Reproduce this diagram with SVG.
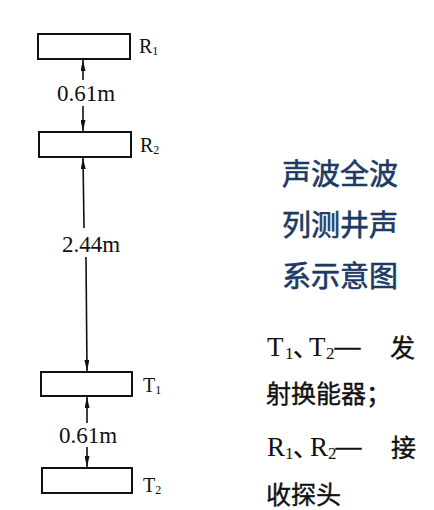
<svg xmlns="http://www.w3.org/2000/svg" width="434" height="510" viewBox="0 0 434 510">
<defs>
<style>
.box{fill:#fff;stroke:#111;stroke-width:2}
.ln{stroke:#111;stroke-width:1.6;fill:none}
.lbl{font-family:"Liberation Serif","Times New Roman",serif;font-size:20px;fill:#111}
.sub{font-size:12px}
.dim{font-family:"Liberation Serif","Times New Roman",serif;font-size:23px;fill:#111;text-anchor:middle}
.title{font-family:"Noto Sans CJK SC","Noto Sans",sans-serif;font-size:29px;fill:#1d3a66;stroke:#1d3a66;stroke-width:0.6}
.note{font-family:"Noto Sans CJK SC","Noto Sans",sans-serif;font-size:25px;fill:#111;stroke:#111;stroke-width:0.4}
.lat{font-family:"Liberation Serif","Times New Roman",serif;font-size:27px;fill:#111;stroke:none}
.lsub{font-family:"Liberation Serif","Times New Roman",serif;font-size:17px;fill:#111;stroke:none}
</style>
<marker id="ah" viewBox="0 0 10 10" refX="10" refY="5" markerWidth="11" markerHeight="5" preserveAspectRatio="none" markerUnits="userSpaceOnUse" orient="auto">
<path d="M0,0 L10,5 L0,10 Z" fill="#111"/>
</marker>
</defs>
<rect width="434" height="510" fill="#fff"/>
<g id="connectors">
<line class="ln" x1="83" y1="80" x2="83" y2="60" marker-end="url(#ah)"/>
<line class="ln" x1="83" y1="106" x2="83" y2="131" marker-end="url(#ah)"/>
<text class="dim" x="86" y="101">0.61m</text>
<line class="ln" x1="84" y1="228" x2="83" y2="158" marker-end="url(#ah)"/>
<line class="ln" x1="86" y1="257" x2="87" y2="371" marker-end="url(#ah)"/>
<text class="dim" x="91" y="252">2.44m</text>
<line class="ln" x1="87" y1="423" x2="87" y2="397" marker-end="url(#ah)"/>
<line class="ln" x1="87" y1="447" x2="87" y2="467" marker-end="url(#ah)"/>
<text class="dim" x="88" y="443">0.61m</text>
</g>
<g id="R1">
<rect class="box" x="38" y="34" width="92" height="25"/>
<text class="lbl" x="139" y="53">R<tspan class="sub" dy="2">1</tspan></text>
</g>
<g id="R2">
<rect class="box" x="39" y="132" width="92" height="25"/>
<text class="lbl" x="140" y="152">R<tspan class="sub" dy="2">2</tspan></text>
</g>
<g id="T1">
<rect class="box" x="41" y="372" width="91" height="24"/>
<text class="lbl" x="143" y="392">T<tspan class="sub" dy="2">1</tspan></text>
</g>
<g id="T2">
<rect class="box" x="42" y="468" width="90" height="25"/>
<text class="lbl" x="143" y="492">T<tspan class="sub" dy="2">2</tspan></text>
</g>
<g id="title">
<text class="title" x="282" y="185">声波全波</text>
<text class="title" x="282" y="236">列测井声</text>
<text class="title" x="282" y="287">系示意图</text>
</g>
<g id="legend">
<text class="note" y="356"><tspan class="lat" x="267">T</tspan><tspan class="lsub" x="285" y="359">1</tspan><tspan x="293" y="356">、</tspan><tspan class="lat" x="309">T</tspan><tspan class="lsub" x="326" y="359">2</tspan><tspan x="333" y="356" textLength="29" lengthAdjust="spacingAndGlyphs">—</tspan><tspan x="390" y="357">发</tspan></text>
<text class="note" x="266" y="403">射换能器；</text>
<text class="note" y="456"><tspan class="lat" x="267">R</tspan><tspan class="lsub" x="285" y="459">1</tspan><tspan x="293" y="456">、</tspan><tspan class="lat" x="310">R</tspan><tspan class="lsub" x="328" y="459">2</tspan><tspan x="334" y="456" textLength="29" lengthAdjust="spacingAndGlyphs">—</tspan><tspan x="391" y="457">接</tspan></text>
<text class="note" x="266" y="504">收探头</text>
</g>
</svg>
